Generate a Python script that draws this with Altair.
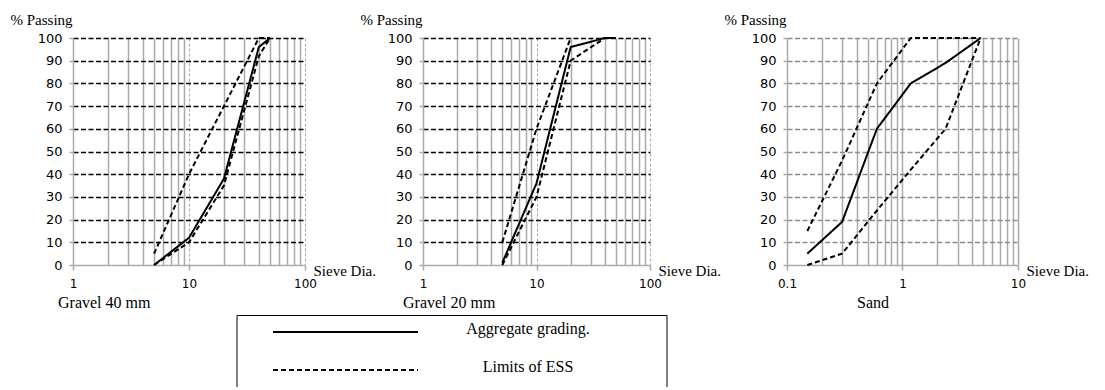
import altair as alt
import pandas as pd

# ---------------- data ----------------
g40_grading_size = [5, 10, 20, 40, 50]
g40_grading_pct = [0, 12, 38, 96, 100]
g40_lower_size = [5, 10, 20, 40, 50]
g40_lower_pct = [0, 10, 35, 92, 100]
g40_upper_size = [5, 10, 20, 40, 50]
g40_upper_pct = [5, 40, 70, 100, 100]

g20_grading_size = [5, 10, 20, 40, 50]
g20_grading_pct = [1, 36, 96, 100, 100]
g20_lower_size = [5, 10, 20, 40]
g20_lower_pct = [0, 30, 90, 100]
g20_upper_size = [5, 10, 20]
g20_upper_pct = [10, 60, 100]

sand_size = [0.15, 0.3, 0.6, 1.18, 2.36, 4.75]
sand_grading_pct = [5, 19, 60, 80, 89, 100]
sand_lower_pct = [0, 5, 24, 42, 60, 100]
sand_upper_pct = [15, 46, 80, 100, 100, 100]

panel_titles = ["Gravel 40 mm", "Gravel 20 mm", "Sand"]
legend_labels = ["Aggregate grading.", "Limits of  ESS"]

y_ticks = [0, 10, 20, 30, 40, 50, 60, 70, 80, 90, 100]
gravel_x_ticks = [1, 2, 3, 4, 5, 6, 7, 8, 9, 10, 20, 30, 40, 50, 60, 70, 80, 90, 100]
gravel_x_major = [1, 10, 100]
sand_x_ticks = [0.1, 0.2, 0.3, 0.4, 0.5, 0.6, 0.7, 0.8, 0.9, 1, 2, 3, 4, 5, 6, 7, 8, 9, 10]
sand_x_major = [0.1, 1, 10]

SERIF = "Liberation Serif"
SANS = "DejaVu Sans"
GRID_GRAY = "#ABABAB"


def frame(parts):
    rows = []
    for series, kind, sizes, pcts in parts:
        for s, p in zip(sizes, pcts):
            rows.append({"size": s, "pct": p, "series": series, "kind": kind})
    return pd.DataFrame(rows)


df40 = frame([
    ("grading", legend_labels[0], g40_grading_size, g40_grading_pct),
    ("lower", legend_labels[1], g40_lower_size, g40_lower_pct),
    ("upper", legend_labels[1], g40_upper_size, g40_upper_pct),
])
df20 = frame([
    ("grading", legend_labels[0], g20_grading_size, g20_grading_pct),
    ("lower", legend_labels[1], g20_lower_size, g20_lower_pct),
    ("upper", legend_labels[1], g20_upper_size, g20_upper_pct),
])
dfsand = frame([
    ("grading", legend_labels[0], sand_size, sand_grading_pct),
    ("lower", legend_labels[1], sand_size, sand_lower_pct),
    ("upper", legend_labels[1], sand_size, sand_upper_pct),
])

dash_scale = alt.Scale(domain=legend_labels, range=[[1, 0], [5, 3]])


def panel(df, domain, ticks, majors, width, hgrid_color, major_dash, title, title_dx):
    major_test = " || ".join(f"datum.value === {m}" for m in majors)
    x_axis = alt.Axis(
        values=ticks,
        format="~g",
        labelExpr=f"({major_test}) ? datum.label : ''",
        labelFlush=False,
        labelOverlap=False,
        labelFont=SANS,
        labelFontSize=12,
        labelColor="black",
        labelPadding=8,
        grid=True,
        gridColor=GRID_GRAY,
        gridWidth={"condition": {"test": major_test, "value": 1 if major_dash else 1.5}, "value": 1.5},
        gridDash={"condition": {"test": major_test, "value": major_dash}, "value": []},
        gridOpacity={"condition": {"test": f"datum.value === {majors[0]}", "value": 0}, "value": 1},
        ticks=True,
        tickSize=5,
        tickColor=GRID_GRAY,
        tickWidth=1.5,
        tickOpacity={"condition": {"test": major_test, "value": 1}, "value": 0},
        domainColor=GRID_GRAY,
        domainWidth=1.5,
        title="Sieve Dia.",
        titleFont=SERIF,
        titleFontSize=15,
        titleFontWeight="normal",
        titleColor="black",
        titleAngle=0,
        titleAlign="left",
        titleBaseline="middle",
        titleX=width + 8,
        titleY=5,
    )
    y_axis = alt.Axis(
        values=y_ticks,
        grid=True,
        gridColor=hgrid_color,
        gridDash=[5, 2.5],
        gridWidth=1.5,
        gridOpacity={"condition": {"test": "datum.value === 0", "value": 0}, "value": 1},
        domainColor=GRID_GRAY,
        domainWidth=1.5,
        tickColor=GRID_GRAY,
        tickSize=4,
        tickWidth=1.5,
        labelFont=SANS,
        labelFontSize=13,
        labelColor="black",
        labelPadding=7,
        labelFlush=False,
        title="% Passing",
        titleFont=SERIF,
        titleFontSize=15,
        titleFontWeight="normal",
        titleColor="black",
        titleAngle=0,
        titleAlign="left",
        titleBaseline="middle",
        titleX=-63,
        titleY=-19,
    )
    return (
        alt.Chart(df)
        .mark_line(color="black", strokeWidth=2)
        .encode(
            x=alt.X("size:Q", scale=alt.Scale(type="log", domain=domain, nice=False), axis=x_axis),
            y=alt.Y("pct:Q", scale=alt.Scale(domain=[0, 100], nice=False), axis=y_axis),
            detail="series:N",
            strokeDash=alt.StrokeDash("kind:N", scale=dash_scale, legend=None),
        )
        .properties(
            width=width,
            height=227,
            title=alt.TitleParams(
                text=title,
                orient="bottom",
                anchor="start",
                frame="group",
                dx=title_dx,
                offset=6,
                font=SERIF,
                fontSize=16,
                fontWeight="normal",
                color="black",
            ),
        )
    )


p1 = panel(df40, [1, 100], gravel_x_ticks, gravel_x_major, 232, "black", [3, 2], panel_titles[0], -15)
p2 = panel(df20, [1, 100], gravel_x_ticks, gravel_x_major, 227, "black", [3, 2], panel_titles[1], -20)
p3 = panel(dfsand, [0.1, 10], sand_x_ticks, sand_x_major, 231, "#8C8C8C", [], panel_titles[2], 70)

# ---------------- legend box ----------------
legend_df = pd.DataFrame({"label": legend_labels})
ypos = alt.Y("label:N", sort=legend_labels, axis=None,
             scale=alt.Scale(type="point", range=[17, 55], padding=0))

box = alt.Chart(alt.Data(values=[{"box": 1}])).mark_rect(
    fill="white", stroke="black", strokeWidth=1, clip=True
).encode(x=alt.value(164), x2=alt.value(594), y=alt.value(0.5), y2=alt.value(90))

rules = alt.Chart(legend_df).mark_rule(color="black", strokeWidth=2).encode(
    x=alt.value(200), x2=alt.value(345), y=ypos,
    strokeDash=alt.StrokeDash("label:N", scale=dash_scale, legend=None),
)
texts = alt.Chart(legend_df).mark_text(
    font=SERIF, fontSize=16, align="center", baseline="middle", color="black", dy=-3
).encode(x=alt.value(455), y=ypos, text="label:N")

legend = alt.layer(box, rules, texts).properties(width=640, height=72)

inner = alt.hconcat(p1, p2, spacing=118, bounds="flush")
row = alt.hconcat(inner, p3, spacing=3)
chart = (
    alt.vconcat(row, legend, spacing=4)
    .properties(padding={"left": 10, "top": 12, "right": 0, "bottom": 0})
    .configure_view(stroke=None)
)

chart.save("out.html", embed_options={"renderer": "svg", "actions": False})
